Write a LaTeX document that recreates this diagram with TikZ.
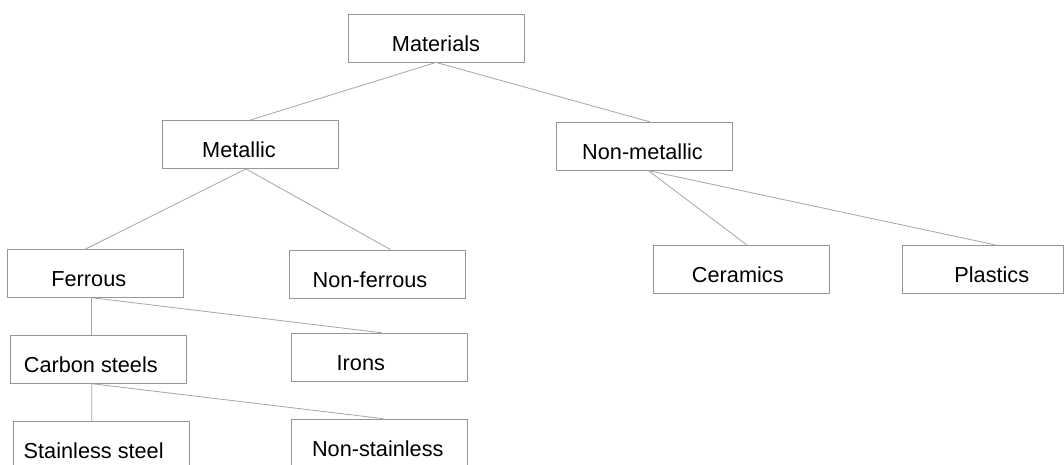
\documentclass[tikz,border=0pt]{standalone}
\usepackage{fontspec}
\setmainfont{Liberation Sans}
\usepackage{xcolor}
\definecolor{boxgray}{RGB}{150,150,150}
\definecolor{linkgray}{RGB}{165,165,165}

\begin{document}
\begin{tikzpicture}[x=1pt, y=-1pt,
			box/.style={shape=rectangle, draw=boxgray, line width=.8pt, minimum width=176pt, minimum height=48pt, inner sep=0pt, text height=26pt, text depth=0pt, font=\fontsize{21.7}{26}\selectfont},
			tshift/.style={execute at begin node={\hspace*{#1}}},
			link/.style={draw=linkgray, line width=.8pt}]
			\useasboundingbox (0,0) rectangle (1064,464);
			\clip (0,0) rectangle (1064,464);
			\node (materials) at (436,38) [box] {Materials};
			\node (metallic) at (250,144.5) [box, tshift=-22pt] {Metallic};
			\node (nonmetallic) at (644.5,146.3) [box, tshift=-4pt] {Non-metallic};
			\node (ferrous) at (95.8,273.3) [box, tshift=-14pt] {Ferrous};
			\node (nonferrous) at (377.5,274) [box, tshift=-15pt] {Non-ferrous};
			\node (carbon) at (98.3,359.3) [box, tshift=-15pt] {Carbon steels};
			\node (irons) at (379.8,357.2) [box, tshift=-38pt] {Irons};
			\node (stainless) at (101.7,445.3) [box, tshift=-16pt] {Stainless steel};
			\node (nonstainless) at (379.8,443) [box, tshift=-4pt] {Non-stainless};
			\node (ceramics) at (741.8,269.3) [box, tshift=-8pt] {Ceramics};
			\node (plastics) at (982.8,269.2) [box, minimum width=161pt, tshift=18pt] {Plastics};
			\draw [link] (materials.south) -- (metallic.north);
			\draw [link] (materials.south) -- ([xshift=5.5pt]nonmetallic.north);
			\draw [link] ([xshift=-4pt]metallic.south) -- ([xshift=-10pt]ferrous.north);
			\draw [link] ([xshift=-4pt]metallic.south) -- ([xshift=13pt]nonferrous.north);
			\draw [link] ([xshift=-4pt]ferrous.south) -- ([xshift=-6.5pt]carbon.north);
			\draw [link] ([xshift=-4pt]ferrous.south) -- ([xshift=2pt]irons.north);
			\draw [link] ([xshift=-6.5pt]carbon.south) -- ([xshift=-10pt]stainless.north);
			\draw [link] ([xshift=-6.5pt]carbon.south) -- ([xshift=3pt]nonstainless.north);
			\draw [link] ([xshift=4pt]nonmetallic.south) -- ([xshift=5pt]ceramics.north);
			\draw [link] ([xshift=4pt]nonmetallic.south) -- ([xshift=12pt]plastics.north);
		\end{tikzpicture}
\end{document}
